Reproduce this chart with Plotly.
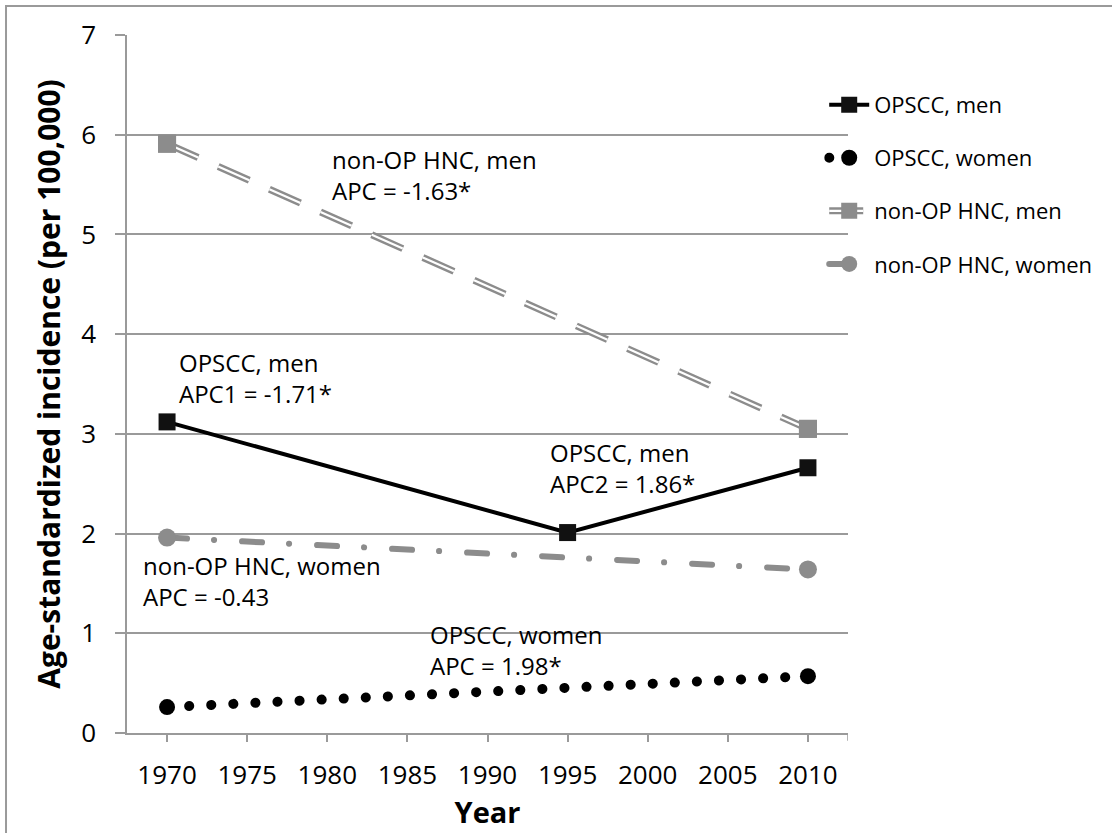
import plotly.graph_objects as go

# ---- data ----
years_men = [1970, 1995, 2010]
opscc_men = [3.12, 2.01, 2.66]
years_ends = [1970, 2010]
opscc_women = [0.26, 0.57]
nonop_men = [5.91, 3.05]
nonop_women = [1.96, 1.64]

labels = {
    "opscc_men": "OPSCC, men",
    "opscc_women": "OPSCC, women",
    "nonop_men": "non-OP HNC, men",
    "nonop_women": "non-OP HNC, women",
}

# annotation texts and anchor positions (year, value)
ann_texts = [
    "non-OP HNC, men<br>APC = -1.63*",
    "OPSCC, men<br>APC1 = -1.71*",
    "OPSCC, men<br>APC2 = 1.86*",
    "non-OP HNC, women<br>APC = -0.43",
    "OPSCC, women<br>APC = 1.98*",
]
ann_x = [1980.2, 1970.6, 1993.8, 1968.4, 1986.3]
ann_y = [5.60, 3.56, 2.66, 1.52, 0.83]

FONT = "Open Sans"
GRAY = "#8c8c8c"
AXG = "#9a9a9a"

fig = go.Figure()

fig.add_trace(go.Scatter(
    x=years_men, y=opscc_men, name=labels["opscc_men"], mode="lines+markers",
    line=dict(color="#000000", width=4),
    marker=dict(symbol="square", size=17, color="#111111"),
    legendgroup="a",
))
fig.add_trace(go.Scatter(
    x=years_ends, y=opscc_women, name=labels["opscc_women"], mode="lines+markers",
    line=dict(color="#000000", width=10, dash="0.1px,22px"),
    marker=dict(symbol="circle", size=16, color="#000000"),
    legendgroup="b", uid="dotted",
))
fig.add_trace(go.Scatter(
    x=years_ends, y=nonop_men, name=labels["nonop_men"], mode="lines+markers",
    line=dict(color=GRAY, width=7, dash="34px,22px"),
    marker=dict(symbol="square", size=18, color=GRAY),
    legendgroup="c",
))
fig.add_trace(go.Scatter(
    x=years_ends, y=nonop_men, mode="lines", showlegend=False, hoverinfo="skip",
    line=dict(color="#ffffff", width=2.2, dash="34px,22px"),
    legendgroup="c",
))
fig.add_trace(go.Scatter(
    x=years_ends, y=nonop_men, mode="markers", showlegend=False, hoverinfo="skip",
    marker=dict(symbol="square", size=18, color=GRAY),
    legendgroup="c",
))
fig.add_trace(go.Scatter(
    x=years_ends, y=nonop_women, name=labels["nonop_women"], mode="lines+markers",
    line=dict(color=GRAY, width=6, dash="20px,27px,0.1px,28px"),
    marker=dict(symbol="circle", size=18, color=GRAY),
    legendgroup="d", uid="dashdot",
))

for t, x, y in zip(ann_texts, ann_x, ann_y):
    fig.add_annotation(x=x, y=y, xref="x", yref="y", text=t, showarrow=False,
                       xanchor="left", yanchor="middle", align="left",
                       font=dict(family=FONT, size=24, color="#000000"))

# outer frame (partially visible, as in the reference)
fig.add_shape(type="rect", xref="paper", yref="paper",
              x0=-0.1678, x1=1.6, y0=-0.6, y1=1.0415,
              line=dict(color=AXG, width=2), layer="below")
# closing tick at the end of the x axis
fig.add_shape(type="line", xref="x", yref="paper", x0=2012.5, x1=2012.5,
              y0=0, y1=-0.011, line=dict(color=AXG, width=1.5))

fig.update_layout(
    width=1112, height=833,
    margin=dict(l=127, r=264, t=35, b=100, autoexpand=False),
    paper_bgcolor="white", plot_bgcolor="white",
    font=dict(family=FONT, color="#000000"),
    showlegend=True,
    legend=dict(x=0.967, y=0.93, xanchor="left", yanchor="top",
                font=dict(family=FONT, size=22, color="#000000"),
                tracegroupgap=21.5, bgcolor="rgba(0,0,0,0)", itemwidth=40),
    xaxis=dict(range=[1967.5, 2012.5], tick0=1970, dtick=5, showgrid=False,
               zeroline=False, showline=True, linecolor=AXG, linewidth=1.5,
               ticks="outside", ticklen=7, tickcolor=AXG, tickwidth=1.5,
               tickfont=dict(family=FONT, size=26, color="#000000"),
               ticklabelstandoff=11,
               title=dict(text="Year", standoff=10,
                          font=dict(family=FONT, size=29, color="#000000", weight="bold"))),
    yaxis=dict(range=[0, 7], dtick=1, showgrid=True, gridcolor=AXG, gridwidth=1.5,
               zeroline=False, showline=True, linecolor=AXG, linewidth=1.5,
               ticks="outside", ticklen=10, tickcolor=AXG, tickwidth=1.5,
               tickfont=dict(family=FONT, size=26, color="#000000"),
               ticklabelstandoff=14,
               title=dict(text="Age-standardized incidence (per 100,000)", standoff=12,
                          font=dict(family=FONT, size=30, color="#000000", weight="bold"))),
)

post = """
document.body.style.margin = '0';
document.querySelectorAll('.tracedotted path.js-line, .tracedashdot path.js-line').forEach(function(p){
  p.style.strokeLinecap = 'round';
});
document.querySelectorAll('.legend .traces').forEach(function(g){
  var txt = g.textContent || '';
  var paths = g.querySelectorAll('path.js-line');
  if (txt.indexOf('OPSCC, women') >= 0 || txt.indexOf('HNC, women') >= 0) {
    paths.forEach(function(p){ p.style.strokeLinecap = 'round'; });
  }
  if (txt.indexOf('HNC, men') >= 0) {
    paths.forEach(function(p){
      var c = p.cloneNode(true);
      c.style.stroke = '#ffffff';
      c.style.strokeWidth = '2.2px';
      p.parentNode.insertBefore(c, p.nextSibling);
    });
  }
});
"""

fig.write_html("out.html", post_script=post, config={"displayModeBar": False})
